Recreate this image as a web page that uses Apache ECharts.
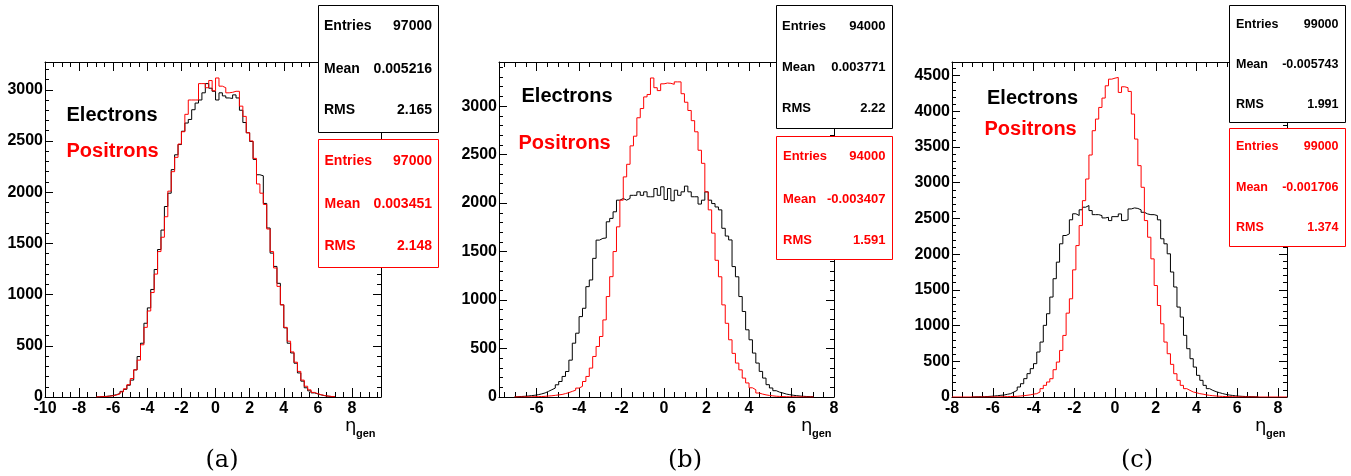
<!DOCTYPE html>
<html><head><meta charset="utf-8">
<script src="https://cdn.jsdelivr.net/npm/echarts@6/dist/echarts.min.js"></script>
<style>html,body{margin:0;padding:0;background:#fff;} #c{width:1351px;height:476px;}</style>
</head><body><div id="c"></div>
<script>
// ---------------- data ----------------
// panel (a): bins of 0.2 starting at -7.0
const binStartA = -7.0, binWidthA = 0.2;
const electronsA = [2,4,6,10,15,23,35,55,75,115,
  165,265,395,525,720,870,1050,1245,1440,1630,
  1860,1990,2220,2365,2465,2595,2675,2710,2805,2870,
  2900,2970,3060,3015,2985,2900,2970,2940,2920,2915,
  2950,2920,2800,2680,2580,2495,2320,2170,2160,1890,
  1650,1405,1275,1110,900,675,525,430,330,235,
  155,90,60,40,30,20,13,8,5,3];
const positronsA = [2,3,5,8,12,20,30,50,80,120,
  180,265,360,510,680,840,1020,1200,1420,1560,
  1760,2010,2200,2340,2470,2590,2760,2900,2900,2900,
  3060,3060,3020,3090,2990,3115,3035,3020,2970,2975,
  2985,2985,2840,2740,2580,2500,2330,2080,1990,1880,
  1640,1420,1260,1080,900,680,545,440,340,250,
  165,105,70,45,32,22,14,9,5,3];
// panels (b) and (c): bins of 0.16 starting at -7.04
const binStartBC = -7.04, binWidthBC = 0.16;
const electronsB = [3,5,7,10,14,18,24,32,42,58,
  75,92,126,160,212,263,380,555,658,829,
  915,1138,1207,1430,1618,1636,1640,1807,1842,1910,
  2030,2047,2030,2048,2080,2080,2116,2080,2116,2065,
  2065,2150,2080,2168,2037,2150,2024,2133,2080,2116,
  2175,2116,2065,2065,1990,2030,2116,2030,1995,1960,
  1930,1740,1660,1620,1345,1240,1036,882,693,590,
  453,350,264,195,127,93,65,50,41,30,
  24,18,14,10,7,5,4,3];
const positronsB = [1,1,1,2,2,3,4,5,7,10,
  13,17,22,26,35,45,58,70,92,110,
  160,212,298,418,521,624,795,1036,1241,1500,
  1755,2030,2270,2400,2590,2690,2880,2975,3095,3120,
  3290,3190,3160,3230,3238,3235,3225,3250,3250,3128,
  3040,2955,2850,2735,2545,2410,2115,1930,1690,1410,
  1240,950,760,590,450,350,280,195,145,95,
  75,41,30,22,16,12,8,6,4,3,
  2,2,1,1,1,0,0,0];
const electronsC = [2,3,4,5,7,10,14,18,24,28,
  38,47,70,93,140,186,257,327,397,467,
  630,769,1003,1166,1399,1656,1888,2145,2261,2284,
  2481,2565,2541,2621,2657,2681,2610,2553,2553,2540,
  2507,2516,2470,2525,2525,2563,2470,2480,2633,2647,
  2640,2620,2586,2563,2553,2553,2540,2480,2215,2145,
  2005,1750,1540,1259,1119,863,676,536,419,303,
  233,163,117,93,75,61,48,37,28,22,
  16,12,9,7,5,4,3,2];
const positronsC = [0,0,0,1,1,1,2,2,3,4,
  5,6,8,10,14,18,24,30,40,47,
  70,117,163,210,256,382,489,652,862,1174,
  1375,1780,2120,2400,2749,3052,3388,3728,3891,4054,
  4185,4357,4450,4464,4474,4264,4343,4330,4278,3961,
  3611,3239,2936,2470,2237,1934,1561,1281,1025,769,
  606,457,326,233,163,117,93,70,60,47,
  40,30,23,18,14,10,8,6,5,4,
  3,2,2,1,1,1,0,0];
// tick labels
const xTicksA = [-10,-8,-6,-4,-2,0,2,4,6,8];
const xTicksB = [-6,-4,-2,0,2,4,6,8];
const xTicksC = [-8,-6,-4,-2,0,2,4,6,8];
const yTicksAB = [0,500,1000,1500,2000,2500,3000];
const yTicksC = [0,500,1000,1500,2000,2500,3000,3500,4000,4500];
// texts
const statsLabels = ['Entries','Mean','RMS'];
const statsElA = ['97000','0.005216','2.165'];
const statsPosA = ['97000','0.003451','2.148'];
const statsElB = ['94000','0.003771','2.22'];
const statsPosB = ['94000','-0.003407','1.591'];
const statsElC = ['99000','-0.005743','1.991'];
const statsPosC = ['99000','-0.001706','1.374'];
const legendLabels = ['Electrons','Positrons'];
const panelLabels = ['(a)','(b)','(c)'];
const axisTitle = ['\u03B7','gen'];

// ---------------- chart ----------------
const SANS = '"Liberation Sans", Arial, Helvetica, sans-serif';
const BLACK = '#000000', RED = '#ff0000';

function range(from, to, step) {
  const out = [];
  for (let k = Math.ceil(from / step - 1e-9); k * step <= to + 1e-9; k++) out.push(+(k * step).toFixed(4));
  return out;
}
function histPoints(start, width, counts, extFrom, extTo) {
  const pts = [];
  if (extFrom !== undefined) pts.push([extFrom, 0]);
  pts.push([start, 0]);
  for (let i = 0; i < counts.length; i++) pts.push([+(start + i * width).toFixed(4), counts[i]]);
  pts.push([+(start + counts.length * width).toFixed(4), 0]);
  if (extTo !== undefined) pts.push([extTo, 0]);
  return pts;
}
const plainNum = v => String(v);

const panels = [
  {left:45, top:62, width:336, height:335, xMin:-10, xMax:9.7, yMax:3271,
   xTicks:xTicksA, yTicks:yTicksAB, el:electronsA, pos:positronsA, start:binStartA, bw:binWidthA, extend:false},
  {left:499, top:62, width:335, height:335, xMin:-7.77, xMax:8.0, yMax:3455,
   xTicks:xTicksB, yTicks:yTicksAB, el:electronsB, pos:positronsB, start:binStartBC, bw:binWidthBC, extend:false},
  {left:952, top:62, width:335, height:335, xMin:-8, xMax:8.44, yMax:4690,
   xTicks:xTicksC, yTicks:yTicksC, el:electronsC, pos:positronsC, start:binStartBC, bw:binWidthBC, extend:true}
];

const grid = [], xAxis = [], yAxis = [], series = [];
panels.forEach((p, gi) => {
  grid.push({left:p.left, top:p.top, width:p.width, height:p.height, containLabel:false});
  const xMinor = range(p.xMin, p.xMax, 0.5);
  const yMinor = range(0, p.yMax, 100);
  const xBase = {type:'value', gridIndex:gi, min:p.xMin, max:p.xMax, splitLine:{show:false}};
  const yBase = {type:'value', gridIndex:gi, min:0, max:p.yMax, splitLine:{show:false}};
  const line = {show:true, onZero:false, lineStyle:{color:BLACK, width:1}};
  const noLine = {show:false, onZero:false};
  const noLabel = {show:false};
  const xi = xAxis.length, yi = yAxis.length;
  xAxis.push(Object.assign({}, xBase, {position:'bottom', axisLine:line,
    axisTick:{show:true, inside:true, length:9, customValues:p.xTicks, lineStyle:{color:BLACK}},
    axisLabel:{show:true, customValues:p.xTicks, formatter:plainNum, margin:4, color:BLACK, fontFamily:SANS, fontWeight:'bold', fontSize:16}}));
  xAxis.push(Object.assign({}, xBase, {position:'bottom', axisLine:noLine,
    axisTick:{show:true, inside:true, length:5, customValues:xMinor, lineStyle:{color:BLACK}}, axisLabel:noLabel}));
  xAxis.push(Object.assign({}, xBase, {position:'top', axisLine:line,
    axisTick:{show:true, inside:true, length:9, customValues:p.xTicks, lineStyle:{color:BLACK}}, axisLabel:noLabel}));
  xAxis.push(Object.assign({}, xBase, {position:'top', axisLine:noLine,
    axisTick:{show:true, inside:true, length:5, customValues:xMinor, lineStyle:{color:BLACK}}, axisLabel:noLabel}));
  yAxis.push(Object.assign({}, yBase, {position:'left', axisLine:line,
    axisTick:{show:true, inside:true, length:8, customValues:p.yTicks, lineStyle:{color:BLACK}},
    axisLabel:{show:true, customValues:p.yTicks, formatter:plainNum, margin:2, color:BLACK, fontFamily:SANS, fontWeight:'bold', fontSize:16}}));
  yAxis.push(Object.assign({}, yBase, {position:'left', axisLine:noLine,
    axisTick:{show:true, inside:true, length:4, customValues:yMinor, lineStyle:{color:BLACK}}, axisLabel:noLabel}));
  yAxis.push(Object.assign({}, yBase, {position:'right', axisLine:line,
    axisTick:{show:true, inside:true, length:8, customValues:p.yTicks, lineStyle:{color:BLACK}}, axisLabel:noLabel}));
  yAxis.push(Object.assign({}, yBase, {position:'right', axisLine:noLine,
    axisTick:{show:true, inside:true, length:4, customValues:yMinor, lineStyle:{color:BLACK}}, axisLabel:noLabel}));

  series.push({type:'line', name:legendLabels[0], xAxisIndex:xi, yAxisIndex:yi, step:'end', showSymbol:false,
    data:histPoints(p.start, p.bw, p.el), lineStyle:{color:BLACK, width:1}, itemStyle:{color:BLACK}, z:3, animation:false, silent:true});
  series.push({type:'line', name:legendLabels[1], xAxisIndex:xi, yAxisIndex:yi, step:'end', showSymbol:false,
    data:histPoints(p.start, p.bw, p.pos, p.extend ? p.xMin : undefined, p.extend ? p.xMax : undefined),
    lineStyle:{color:RED, width:1}, itemStyle:{color:RED}, z:4, animation:false, silent:true});
});

// ---------------- annotations ----------------
const graphic = [];
function txt(x, y, s, font, fill, align) {
  graphic.push({type:'text', z:120, silent:true,
    style:{x:x, y:y, text:s, font:font, fill:fill, textAlign:align || 'left', textVerticalAlign:'middle'}});
}
function statsBox(b, color, values) {
  graphic.push({type:'rect', z:110, silent:true, shape:{x:b.x + 0.5, y:b.y + 0.5, width:b.w, height:b.h},
    style:{fill:'#ffffff', stroke:color, lineWidth:1}});
  const font = 'bold ' + b.fs + 'px ' + SANS;
  for (let i = 0; i < 3; i++) {
    txt(b.tl, b.rows[i], statsLabels[i], font, color, 'left');
    txt(b.tr, b.rows[i], values[i], font, color, 'right');
  }
}
statsBox({x:318, y:5, w:120, h:127, fs:14, tl:324, tr:432, rows:[26,69,110.5]}, BLACK, statsElA);
statsBox({x:318, y:139, w:120, h:128, fs:14, tl:324.5, tr:432, rows:[161,204,246.5]}, RED, statsPosA);
statsBox({x:776, y:5, w:116, h:123, fs:13, tl:782, tr:885.5, rows:[26,67.7,108.3]}, BLACK, statsElB);
statsBox({x:776, y:136, w:116, h:123, fs:13, tl:783, tr:885.5, rows:[156.7,199.3,240]}, RED, statsPosB);
statsBox({x:1229, y:5, w:116, h:117, fs:12.5, tl:1236, tr:1338.5, rows:[24.3,64.3,105]}, BLACK, statsElC);
statsBox({x:1229, y:128, w:116, h:118, fs:12.5, tl:1236, tr:1338.5, rows:[147,187.7,227.7]}, RED, statsPosC);

const LEG = 'bold 20px ' + SANS;
txt(66.5, 115, legendLabels[0], LEG, BLACK);
txt(66.5, 151, legendLabels[1], LEG, RED);
txt(521.5, 96, legendLabels[0], LEG, BLACK);
txt(518.5, 143, legendLabels[1], LEG, RED);
txt(987, 98, legendLabels[0], LEG, BLACK);
txt(984.5, 129.5, legendLabels[1], LEG, RED);

// axis titles
[[345, 426], [801, 426], [1255, 426]].forEach(pt => {
  txt(pt[0], pt[1], axisTitle[0], '18px "DejaVu Sans", sans-serif', BLACK, 'left');
  txt(pt[0] + 11, pt[1] + 8, axisTitle[1], 'bold 11px ' + SANS, BLACK, 'left');
});
// panel labels
[[222, 461], [685, 461], [1137, 461]].forEach((pt, i) => {
  txt(pt[0], pt[1], panelLabels[i], '24px "DejaVu Serif", serif', BLACK, 'center');
});

const chart = echarts.init(document.getElementById('c'), null, {renderer:'canvas'});
chart.setOption({
  animation:false,
  backgroundColor:'#ffffff',
  grid: grid, xAxis: xAxis, yAxis: yAxis, series: series, graphic: graphic,
  tooltip:{show:false}
});
</script>
</body></html>
